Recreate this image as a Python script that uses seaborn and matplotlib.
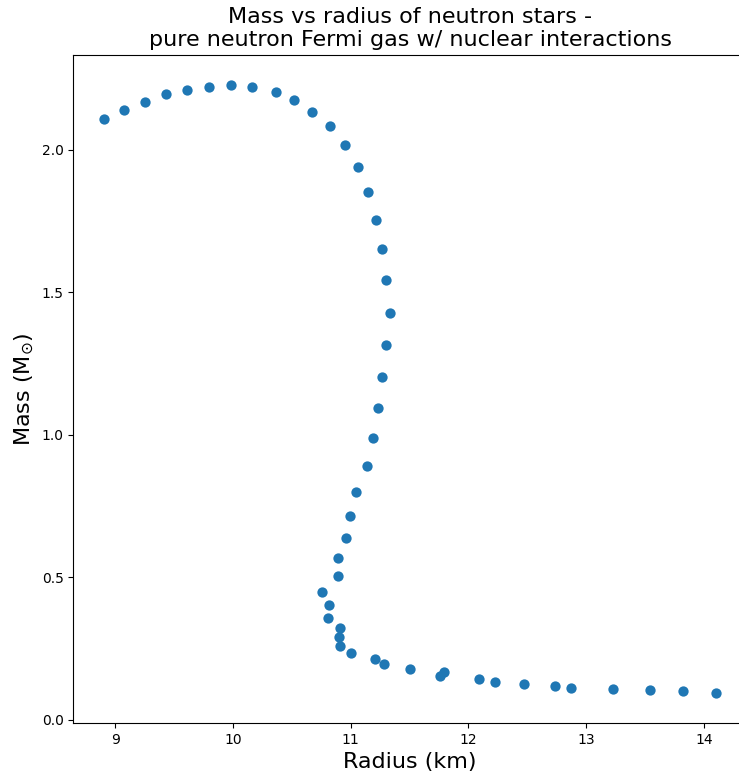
import matplotlib
matplotlib.use("Agg")
import matplotlib.pyplot as plt
import seaborn as sns
import pandas as pd

radius_km = [8.903, 9.073, 9.249, 9.428, 9.609, 9.796, 9.986, 10.165, 10.363, 10.516,
             10.675, 10.820, 10.950, 11.058, 11.151, 11.219, 11.270, 11.298, 11.332, 11.301,
             11.270, 11.230, 11.188, 11.139, 11.049, 10.992, 10.958, 10.890, 10.890, 10.754,
             10.814, 10.811, 10.910, 10.899, 10.913, 11.001, 11.207, 11.279, 11.505, 11.792,
             11.758, 12.087, 12.223, 12.474, 12.736, 12.869, 13.226, 13.543, 13.821, 14.107]
mass_msun = [2.107, 2.139, 2.169, 2.194, 2.210, 2.222, 2.227, 2.220, 2.202, 2.174,
             2.133, 2.082, 2.016, 1.939, 1.853, 1.755, 1.652, 1.542, 1.429, 1.316,
             1.204, 1.095, 0.990, 0.891, 0.799, 0.715, 0.637, 0.567, 0.505, 0.449,
             0.402, 0.358, 0.321, 0.290, 0.260, 0.236, 0.214, 0.196, 0.179, 0.168,
             0.153, 0.144, 0.134, 0.126, 0.119, 0.113, 0.109, 0.104, 0.101, 0.096]

df = pd.DataFrame({"Radius": radius_km, "Mass": mass_msun})

fig = plt.figure(figsize=(7.39, 7.77), dpi=100)
ax = fig.add_axes([0.0992, 0.0695, 0.9116, 0.8601])
sns.scatterplot(data=df, x="Radius", y="Mass", ax=ax, color="#1f77b4",
                s=55, linewidth=0, legend=False)
ax.set_xlabel("Radius (km)", fontsize=16)
ax.set_ylabel(r"Mass (M$_{\odot}$)", fontsize=16)
ax.set_title("Mass vs radius of neutron stars -\npure neutron Fermi gas w/ nuclear interactions",
             fontsize=16)
ax.margins(0.05)
fig.savefig("out.png", dpi=100)
